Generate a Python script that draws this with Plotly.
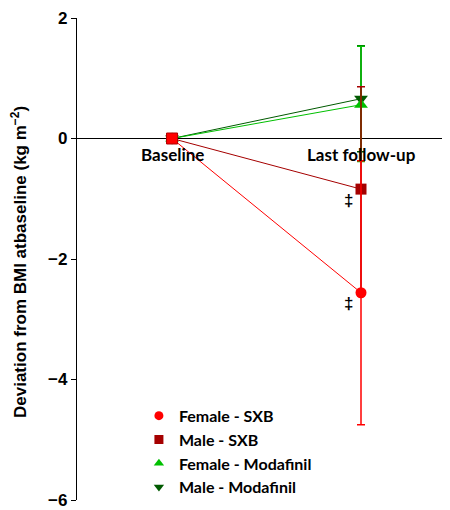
import plotly.graph_objects as go

categories = ["Baseline", "Last follow-up"]
series_names = ["Female - SXB", "Male - SXB", "Female - Modafinil", "Male - Modafinil"]
female_sxb = [0, -2.56]
male_sxb = [0, -0.84]
female_mod = [0, 0.56]
male_mod = [0, 0.66]
female_sxb_err_plus = [0, 2.19]
female_sxb_err_minus = [0, 2.19]
male_sxb_err_plus = [0, 1.70]
male_sxb_err_minus = [0, 1.70]
female_mod_err_plus = [0, 0.97]
female_mod_err_minus = [0, 0.94]
male_mod_err_plus = [0, 0.88]
male_mod_err_minus = [0, 0.88]
y_ticks = [2, 0, -2, -4, -6]
y_tick_labels = ["2", "0", "\u22122", "\u22124", "\u22126"]
y_title = "Deviation from BMI atbaseline (kg m<sup>\u22122</sup>)"
sig_marks = [("Last follow-up", -0.84), ("Last follow-up", -2.56)]

colors = {"Female - SXB": "#FF0000", "Male - SXB": "#A50000",
          "Female - Modafinil": "#00C000", "Male - Modafinil": "#005A00"}
symbols = {"Female - SXB": "circle", "Male - SXB": "square",
           "Female - Modafinil": "triangle-up", "Male - Modafinil": "triangle-down"}

data = {
    "Female - SXB": (female_sxb, female_sxb_err_plus, female_sxb_err_minus),
    "Male - SXB": (male_sxb, male_sxb_err_plus, male_sxb_err_minus),
    "Female - Modafinil": (female_mod, female_mod_err_plus, female_mod_err_minus),
    "Male - Modafinil": (male_mod, male_mod_err_plus, male_mod_err_minus),
}

fig = go.Figure()
draw_order = ["Male - Modafinil", "Female - Modafinil", "Male - SXB", "Female - SXB"]
for name in draw_order:
    y, ep, em = data[name]
    fig.add_trace(go.Scatter(
        x=categories, y=y, name=name, mode="lines+markers", showlegend=False,
        line=dict(color=colors[name], width=1),
        marker=dict(symbol=symbols[name], size=11 if "SXB" in name else 12,
                    color=colors[name]),
        error_y=dict(type="data", symmetric=False, array=ep, arrayminus=em,
                     color=colors[name], thickness=1.5, width=4),
    ))

# baseline marker drawn on top
fig.add_trace(go.Scatter(
    x=[categories[0]], y=[female_sxb[0]], mode="markers", showlegend=False,
    marker=dict(symbol="square", size=11, color="#FF0000",
                line=dict(color="#B00000", width=1)),
))

# legend entries (markers only)
for name in series_names:
    fig.add_trace(go.Scatter(
        x=[None], y=[None], name="<b>%s</b>" % name, mode="markers",
        marker=dict(symbol=symbols[name], size=9, color=colors[name]),
    ))

annotations = []
for cat in categories:
    annotations.append(dict(x=cat, y=0, xref="x", yref="y", text="<b>%s</b>" % cat,
                            showarrow=False, yanchor="top", yshift=-3,
                            font=dict(family="Lato", size=17, color="black")))
for cat, yv in sig_marks:
    annotations.append(dict(x=cat, y=yv, xref="x", yref="y", text="<b>\u2021</b>",
                            showarrow=False, xshift=-13, yshift=-11,
                            font=dict(family="Liberation Sans", size=17, color="black")))
annotations.append(dict(x=0, y=0.5, xref="paper", yref="paper", text="<b>%s</b>" % y_title,
                        textangle=-90, showarrow=False, xanchor="center", yanchor="middle",
                        xshift=-58, yshift=-3,
                        font=dict(family="Liberation Sans", size=17, color="black")))

fig.update_layout(
    width=442, height=502,
    margin=dict(l=69, r=0, t=10, b=8),
    plot_bgcolor="white", paper_bgcolor="white",
    showlegend=True,
    legend=dict(x=0.166, y=0.21, xanchor="left", yanchor="top",
                bgcolor="rgba(0,0,0,0)", tracegroupgap=0, itemwidth=30,
                font=dict(family="Lato", size=16, color="black"),
                traceorder="normal"),
    annotations=annotations,
    xaxis=dict(type="category", range=[-0.503, 1.471], showticklabels=False,
               showgrid=False, zeroline=False, showline=False, ticks=""),
    yaxis=dict(range=[-6, 2], tickvals=y_ticks, ticktext=["<b>%s</b>" % t for t in y_tick_labels],
               showgrid=False, zeroline=True, zerolinecolor="black", zerolinewidth=1.2,
               showline=True, linecolor="black", linewidth=1.2,
               ticks="outside", ticklen=5, tickcolor="black", tickwidth=1.2,
               ticklabeloverflow="allow",
               tickfont=dict(family="Liberation Sans", size=17, color="black")),
)

fig.write_html("out.html")
